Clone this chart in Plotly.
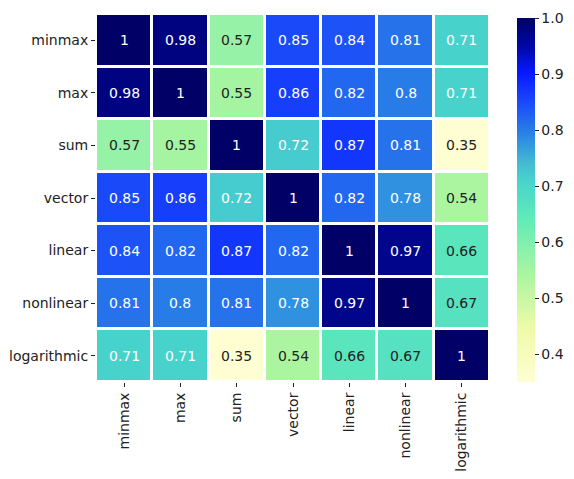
import plotly.graph_objects as go

names = ["minmax", "max", "sum", "vector", "linear", "nonlinear", "logarithmic"]

minmax = [1, 0.98, 0.57, 0.85, 0.84, 0.81, 0.71]
max_ = [0.98, 1, 0.55, 0.86, 0.82, 0.8, 0.71]
sum_ = [0.57, 0.55, 1, 0.72, 0.87, 0.81, 0.35]
vector = [0.85, 0.86, 0.72, 1, 0.82, 0.78, 0.54]
linear = [0.84, 0.82, 0.87, 0.82, 1, 0.97, 0.66]
nonlinear = [0.81, 0.8, 0.81, 0.78, 0.97, 1, 0.67]
logarithmic = [0.71, 0.71, 0.35, 0.54, 0.66, 0.67, 1]

z = [minmax, max_, sum_, vector, linear, nonlinear, logarithmic]

# light yellow -> green -> teal -> blue -> navy
scale = [
    [0.0, "#fffed2"],
    [0.15, "#eefaa8"],
    [0.3, "#a8f5a0"],
    [0.45, "#60ebb8"],
    [0.55, "#48d4cc"],
    [0.6, "#44bcd2"],
    [0.68, "#2a84e4"],
    [0.77, "#1a48fa"],
    [0.85, "#0818ff"],
    [0.92, "#0008a8"],
    [1.0, "#000066"],
]

fig = go.Figure(go.Heatmap(
    z=z, x=names, y=names,
    zmin=0.35, zmax=1.0,
    colorscale=scale,
    xgap=3, ygap=3,
    colorbar=dict(
        thickness=18, len=0.99, lenmode="fraction", y=0, yanchor="bottom",
        x=1.069, xanchor="left", xpad=0, ypad=0, outlinewidth=0,
        tickvals=[0.4, 0.5, 0.6, 0.7, 0.8, 0.9, 1.0],
        ticktext=["0.4", "0.5", "0.6", "0.7", "0.8", "0.9", "1.0"],
        ticks="outside", ticklen=4, tickcolor="#222",
        ticklabeloverflow="allow",
        tickfont=dict(size=14, color="#222"),
    ),
))

annotations = []
for i, row in enumerate(z):
    for j, v in enumerate(row):
        annotations.append(dict(
            x=names[j], y=names[i], text=f"{v:g}", showarrow=False,
            font=dict(size=14, color="white" if v >= 0.7 else "#222"),
        ))

# page body has an 8px margin, so the figure is a bit smaller than the window
fig.update_layout(
    width=566, height=471,
    margin=dict(l=88, r=84, t=6, b=97),
    paper_bgcolor="white", plot_bgcolor="white",
    font=dict(family="DejaVu Sans", size=14, color="#222"),
    annotations=annotations,
)
fig.update_xaxes(tickangle=-90, ticks="outside", ticklen=4, tickcolor="#222",
                 showgrid=False, zeroline=False, automargin=False)
fig.update_yaxes(autorange="reversed", ticks="outside", ticklen=4, tickcolor="#222",
                 showgrid=False, zeroline=False, automargin=False)

fig.write_html("out.html")
